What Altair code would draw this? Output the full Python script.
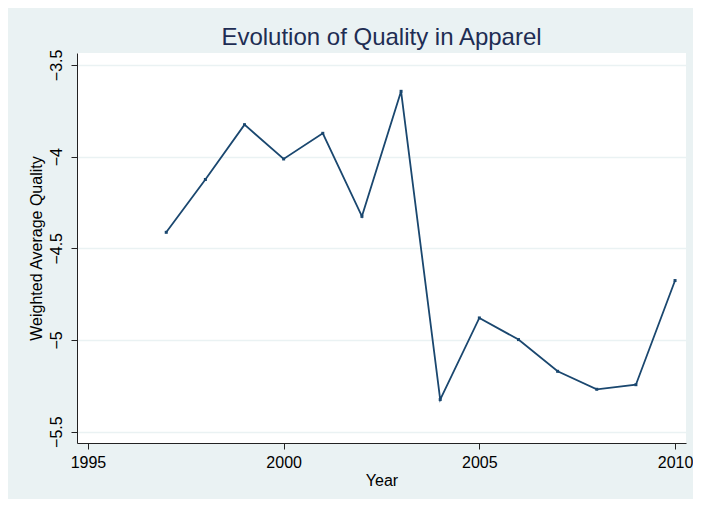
import altair as alt
import pandas as pd

years = [1997, 1998, 1999, 2000, 2001, 2002, 2003, 2004, 2005, 2006, 2007, 2008, 2009, 2010]
quality = [-4.413, -4.125, -3.826, -4.013, -3.873, -4.326, -3.644,
           -5.325, -4.880, -4.998, -5.171, -5.269, -5.244, -4.676]
x_ticks = [1995, 2000, 2005, 2010]
y_ticks = [-5.5, -5.0, -4.5, -4.0, -3.5]

df = pd.DataFrame({"Year": years, "Quality": quality})

FONT = "Liberation Sans"
NAVY = "#1a476f"
BG = "#EAF2F3"

x_enc = alt.X(
    "Year:Q",
    scale=alt.Scale(domain=[1994.72, 2010.28], nice=False, zero=False),
    axis=alt.Axis(
        values=x_ticks, format="d", title="Year", grid=False,
        tickSize=6, labelPadding=5, labelFontSize=16, titleFontSize=16,
        labelFont=FONT, titleFont=FONT, labelColor="black", titleColor="black",
        titleFontWeight="normal", domainColor="#222222", tickColor="#222222",
        titleBaseline="alphabetic", titleY=42, labelFlush=False,
    ),
)
y_enc = alt.Y(
    "Quality:Q",
    scale=alt.Scale(domain=[-5.562, -3.435], nice=False, zero=False),
    axis=alt.Axis(
        values=y_ticks, format="~g", title="Weighted Average Quality",
        grid=True, gridColor=BG, gridWidth=1.5,
        tickSize=6, labelPadding=7, labelAngle=270, labelAlign="center",
        labelBaseline="bottom", labelFontSize=16, titleFontSize=16,
        labelFont=FONT, titleFont=FONT, labelColor="black", titleColor="black",
        titleFontWeight="normal", domainColor="#222222", tickColor="#222222",
        titleAngle=270, titleAlign="center", titleBaseline="alphabetic",
        titleX=-35.5, titleY=195, labelFlush=False,
    ),
)

base = alt.Chart(df)
line = base.mark_line(color=NAVY, strokeWidth=1.8).encode(x=x_enc, y=y_enc)
pts = base.mark_point(shape="square", filled=True, size=9, color=NAVY, opacity=1).encode(
    x="Year:Q", y="Quality:Q"
)

chart = (
    alt.layer(line, pts)
    .properties(
        width=609,
        height=390,
        autosize=alt.AutoSizeParams(type="none"),
        padding={"left": 69, "top": 45, "right": 7, "bottom": 56},
        background=BG,
        title=alt.TitleParams(
            text="Evolution of Quality in Apparel",
            anchor="middle", frame="group", baseline="alphabetic", offset=-20,
            fontSize=24, font=FONT, fontWeight="normal", color="#1e2d53",
        ),
    )
    .configure_view(fill="white", strokeWidth=0)
)

chart.save("out.html", embed_options={"renderer": "svg", "actions": False})
